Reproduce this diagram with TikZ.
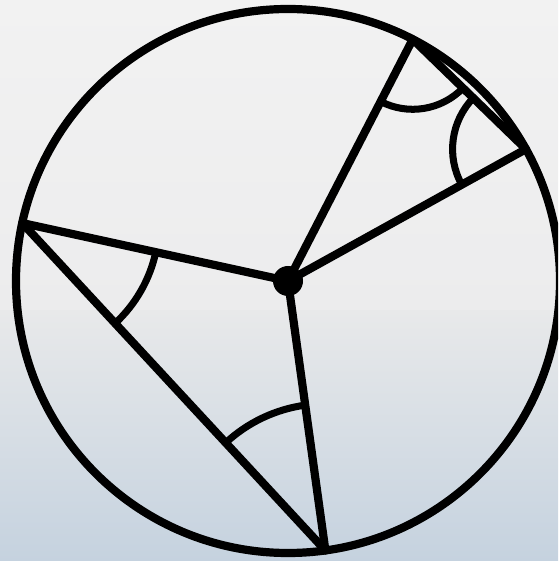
\documentclass[tikz,border=0pt]{standalone}
\usepackage{tikz}
\usetikzlibrary{angles,calc}
\usepackage{xcolor}
\definecolor{bgtop}{RGB}{242,242,242}
\definecolor{bgmid}{RGB}{236,236,237}
\definecolor{bgline}{RGB}{232,233,234}
\definecolor{bgbot}{RGB}{197,210,223}
\begin{document}
\begin{tikzpicture}[x=0.03cm, y=0.03cm, line width=7pt, line cap=round, line join=round,
  hub/.style={circle, fill=black, inner sep=0pt, minimum size=0.9cm},
  anglearc/.style={draw, line width=6pt, line cap=butt}]
\useasboundingbox (0,0) rectangle (558,561);
\clip (0,0) rectangle (558,561);
\shade[top color=bgtop, bottom color=bgmid] (0,250) rectangle (558,561);
\shade[top color=bgline, middle color=bgline!70!bgbot, bottom color=bgbot] (0,0) rectangle (558,250);
\coordinate (O) at (288,280);
\draw (O) circle[radius=272];
\coordinate (A) at ($(O)+(62.7:272)$);
\coordinate (B) at ($(O)+(29.0:272)$);
\coordinate (C) at ($(O)+(167.7:272)$);
\coordinate (D) at ($(O)+(277.9:272)$);
% radii and chords
\draw (O)--(A); \draw (O)--(B); \draw (O)--(C); \draw (O)--(D);
\draw (A)--(B); \draw (C)--(D);
% equal angles
\pic[anglearc, angle radius=2.1cm] {angle=O--A--B};
\pic[anglearc, angle radius=2.2cm] {angle=A--B--O};
\pic[anglearc, angle radius=4.1cm] {angle=D--C--O};
\pic[anglearc, angle radius=4.4cm] {angle=O--D--C};
\node[hub] (h) at (O) {};
\end{tikzpicture}
\end{document}
